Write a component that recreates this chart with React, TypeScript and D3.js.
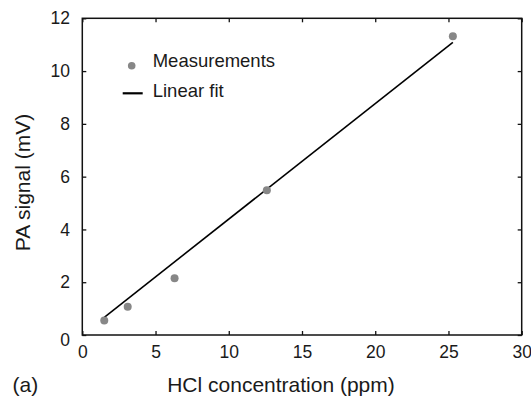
import { useEffect, useRef } from 'react';
import * as d3 from 'd3';

// measured HCl concentrations (ppm) and PA signal (mV)
const concentration = [1.5, 3.1, 6.3, 12.6, 25.3];
const signal = [0.55, 1.07, 2.15, 5.48, 11.32];

// linear fit end points
const fitX = [1.5, 25.3];
const fitY = [0.67, 11.09];

const xTicks = [0, 5, 10, 15, 20, 25, 30];
const yTicks = [0, 2, 4, 6, 8, 10, 12];

const legendLabels = ['Measurements', 'Linear fit'];

const FONT = '"Liberation Sans", Arial, Helvetica, sans-serif';

const App = () => {
  const svgRef = useRef<SVGSVGElement>(null);

  useEffect(() => {
    const width = 531;
    const height = 397;
    const margin = { top: 18.3, right: 9.3, bottom: 62, left: 82.3 };

    const svg = d3.select(svgRef.current);
    svg.selectAll('*').remove();
    svg.attr('width', width).attr('height', height);

    const x = d3
      .scaleLinear()
      .domain([0, 30])
      .range([margin.left, width - margin.right]);

    const y = d3
      .scaleLinear()
      .domain([0, 12])
      .range([height - margin.bottom, margin.top]);

    // axes with inward ticks
    const bottom = svg
      .append('g')
      .attr('transform', `translate(0,${y(0)})`)
      .call(
        d3.axisBottom(x).tickValues(xTicks).tickSizeInner(-4).tickSizeOuter(0).tickPadding(11)
      );

    const left = svg
      .append('g')
      .attr('transform', `translate(${x(0)},0)`)
      .call(
        d3.axisLeft(y).tickValues(yTicks).tickSizeInner(-4).tickSizeOuter(0).tickPadding(12.3)
      );

    svg
      .append('g')
      .attr('transform', `translate(0,${y(12)})`)
      .call(d3.axisTop(x).tickValues(xTicks).tickSizeInner(-4).tickSizeOuter(0).tickFormat(() => ''));

    svg
      .append('g')
      .attr('transform', `translate(${x(30)},0)`)
      .call(d3.axisRight(y).tickValues(yTicks).tickSizeInner(-4).tickSizeOuter(0).tickFormat(() => ''));

    svg.selectAll('.domain').remove();
    svg.selectAll('.tick line').attr('stroke', '#111').attr('stroke-width', 1.3);

    [bottom, left].forEach((g) =>
      g.selectAll('text').attr('font-family', FONT).attr('font-size', 17.5).attr('fill', '#1a1a1a')
    );
    left
      .selectAll<SVGTextElement, number>('text')
      .filter((d) => d === 0)
      .attr('dy', '0.6em');

    // frame
    svg
      .append('rect')
      .attr('x', x(0))
      .attr('y', y(12))
      .attr('width', x(30) - x(0))
      .attr('height', y(0) - y(12))
      .attr('fill', 'none')
      .attr('stroke', '#111')
      .attr('stroke-width', 1.5);

    // fit line
    const line = d3
      .line<number>()
      .x((d) => x(d))
      .y((_, i) => y(fitY[i]));

    svg
      .append('path')
      .datum(fitX)
      .attr('fill', 'none')
      .attr('stroke', '#000')
      .attr('stroke-width', 1.6)
      .attr('d', line);

    // points
    svg
      .append('g')
      .selectAll('circle')
      .data(concentration)
      .enter()
      .append('circle')
      .attr('cx', (d) => x(d))
      .attr('cy', (_, i) => y(signal[i]))
      .attr('r', 4)
      .attr('fill', '#878787');

    // legend
    const legend = svg.append('g').attr('font-family', FONT).attr('font-size', 18.5).attr('fill', '#1a1a1a');
    legend.append('circle').attr('cx', 131.7).attr('cy', 65.7).attr('r', 3.8).attr('fill', '#878787');
    legend
      .append('line')
      .attr('x1', 122.7)
      .attr('x2', 142.7)
      .attr('y1', 93.3)
      .attr('y2', 93.3)
      .attr('stroke', '#000')
      .attr('stroke-width', 2.2);
    legend
      .selectAll('text')
      .data(legendLabels)
      .enter()
      .append('text')
      .attr('x', 152.7)
      .attr('y', (_, i) => 66.7 + i * 30.7)
      .text((d) => d);

    // axis titles
    svg
      .append('text')
      .attr('x', 281)
      .attr('y', 392)
      .attr('text-anchor', 'middle')
      .attr('font-family', FONT)
      .attr('font-size', 21)
      .attr('fill', '#1a1a1a')
      .text('HCl concentration (ppm)');

    svg
      .append('text')
      .attr('x', 12.5)
      .attr('y', 392)
      .attr('font-family', FONT)
      .attr('font-size', 21)
      .attr('fill', '#1a1a1a')
      .text('(a)');

    svg
      .append('text')
      .attr('transform', 'translate(29.5,182.5) rotate(-90)')
      .attr('text-anchor', 'middle')
      .attr('font-family', FONT)
      .attr('font-size', 21)
      .attr('fill', '#1a1a1a')
      .text('PA signal (mV)');
  }, []);

  return (
    <svg
      ref={svgRef}
      style={{ position: 'absolute', left: 0, top: 0, background: '#fff' }}
    />
  );
};

export default App;
